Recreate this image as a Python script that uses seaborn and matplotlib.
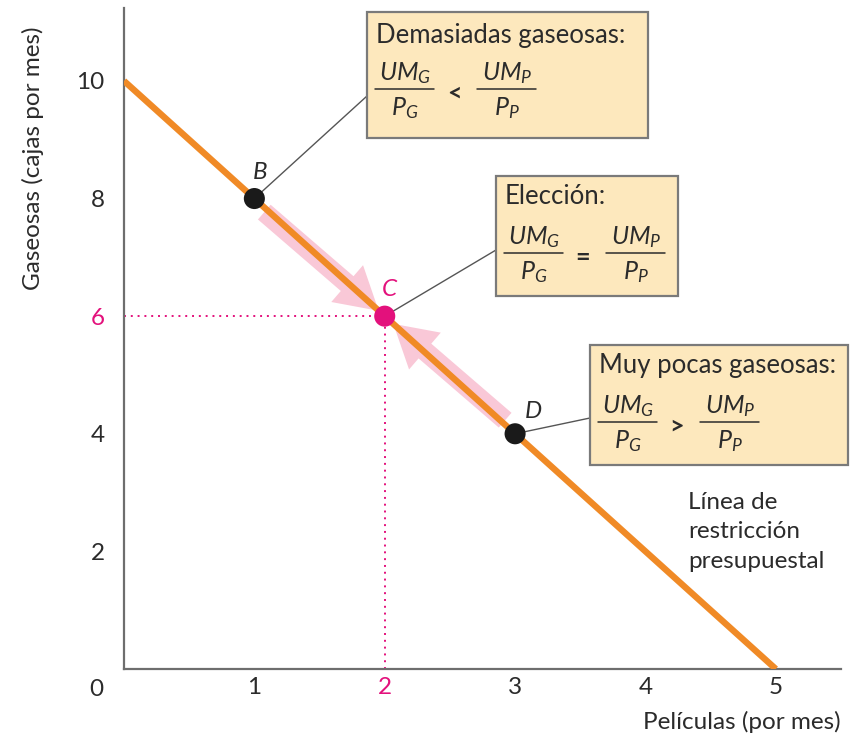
import matplotlib
matplotlib.use("Agg")
import matplotlib.pyplot as plt
import matplotlib.transforms as mtransforms
from matplotlib.patches import Rectangle, FancyArrowPatch
import seaborn as sns
import pandas as pd

# ---- data ----
peliculas_line = [0, 5]
gaseosas_line = [10, 0]
point_labels = ["B", "C", "D"]
point_x = [1, 2, 3]
point_y = [8, 6, 4]
x_ticks = [1, 2, 3, 4, 5]
y_ticks = [2, 4, 6, 8, 10]

ORANGE = "#f08a26"
MAGENTA = "#e3117c"
PINK = "#f9c8d7"
BOXFACE = "#fde8bd"
BOXEDGE = "#7a7a7a"
AXCOL = "#6e6e6e"
TXT = "#2b2b2b"
FS = 17.5

sns.set_style("white")
plt.rcParams["font.family"] = ["Lato", "DejaVu Sans"]
plt.rcParams["mathtext.fontset"] = "custom"
plt.rcParams["mathtext.it"] = "Lato:italic"
plt.rcParams["mathtext.rm"] = "Lato"

W, H = 861, 741
fig = plt.figure(figsize=(W / 100, H / 100), dpi=100)
ax = fig.add_axes([124 / W, 1 - 669 / H, (841 - 124) / W, (669 - 8) / H])
ax.set_xlim(0, 5.5)
ax.set_ylim(0, 11.24)

# reference-pixel transform (for annotation boxes only)
pix = mtransforms.Affine2D().scale(1 / W, -1 / H).translate(0, 1) + fig.transFigure

line_df = pd.DataFrame({"Películas": peliculas_line, "Gaseosas": gaseosas_line})
pts_df = pd.DataFrame({"x": point_x, "y": point_y, "lab": point_labels})

# pink arrows towards C
c = (point_x[1], point_y[1])
for (sx, sy), (ex, ey) in [((point_x[0] + 0.06, point_y[0] - 0.2), (c[0] - 0.03, c[1] + 0.06)),
                           ((point_x[2] - 0.06, point_y[2] + 0.2), (c[0] + 0.05, c[1] - 0.1))]:
    arr = FancyArrowPatch((sx, sy), (ex, ey),
                          arrowstyle="simple,head_width=3.5,head_length=3.0,tail_width=1.4",
                          mutation_scale=10, color=PINK, lw=0, zorder=2)
    ax.add_patch(arr)

# dotted guides to C
ax.plot([0, c[0]], [c[1], c[1]], ls=(0, (1, 2.5)), color=MAGENTA, lw=1.4, zorder=1)
ax.plot([c[0], c[0]], [0, c[1]], ls=(0, (1, 2.5)), color=MAGENTA, lw=1.4, zorder=1)

sns.lineplot(data=line_df, x="Películas", y="Gaseosas", color=ORANGE, lw=4.6,
             ax=ax, zorder=3, solid_capstyle="butt")
sns.scatterplot(data=pts_df, x="x", y="y", hue="lab",
                palette={"B": "#1a1a1a", "C": MAGENTA, "D": "#1a1a1a"},
                s=230, edgecolor="none", legend=False, ax=ax, zorder=5)

# point letters
lab_off = {"B": (6, 26), "C": (5, 27), "D": (18, 22)}
for lab, x, y in zip(point_labels, point_x, point_y):
    dx, dy = lab_off[lab]
    ax.annotate(lab, (x, y), xytext=(dx * 0.72, dy * 0.72), textcoords="offset points",
                ha="center", va="center", fontsize=FS, style="italic",
                color=MAGENTA if lab == "C" else TXT, zorder=6)

# axes styling
for s in ["top", "right"]:
    ax.spines[s].set_visible(False)
for s in ["left", "bottom"]:
    ax.spines[s].set_color(AXCOL)
    ax.spines[s].set_linewidth(1.6)
ax.set_xticks(x_ticks)
ax.set_yticks(y_ticks)
ax.tick_params(direction="in", length=7, width=1.4, color=AXCOL, labelsize=FS,
               labelcolor=TXT)
ax.tick_params(axis="x", pad=6)
ax.tick_params(axis="y", pad=14)
for t in ax.get_xticklabels():
    if t.get_text() == "2":
        t.set_color(MAGENTA)
for t in ax.get_yticklabels():
    if t.get_text() == "6":
        t.set_color(MAGENTA)
ax.set_xlabel("")
ax.set_ylabel("")
fig.text(96 / W, 1 - 689 / H, "0", ha="center", va="center", fontsize=FS, color=TXT)
fig.text(841 / W, 1 - 722 / H, "Películas (por mes)", ha="right", va="center",
         fontsize=FS, color=TXT)
fig.text(33 / W, 1 - 158 / H, "Gaseosas (cajas por mes)", ha="center", va="center",
         rotation=90, fontsize=FS, color=TXT)

ax.text(688 / W, 1 - 532 / H, "Línea de\nrestricción\npresupuestal", transform=fig.transFigure,
        ha="left", va="center", fontsize=FS, color=TXT, linespacing=1.5)


# annotation boxes
def box(x0, y0, x1, y1, title, op, anchor_xy, conn_y, title_dy):
    ax.add_patch(Rectangle((x0, y0), x1 - x0, y1 - y0, transform=pix, facecolor=BOXFACE,
                           edgecolor=BOXEDGE, lw=1.6, clip_on=False, zorder=7))
    ax.annotate("", xy=anchor_xy, xycoords="data", xytext=(x0, conn_y), textcoords=pix,
                arrowprops=dict(arrowstyle="-", color="#555555", lw=1.0,
                                shrinkA=0, shrinkB=6), zorder=4)
    ax.text(x0 + 9, y0 + title_dy, title, transform=pix, ha="left", va="center",
            fontsize=18.5, color=TXT, zorder=8)
    for cx, num, den in [(x0 + 38, r"$UM_G$", r"$P_G$"), (x0 + 140, r"$UM_P$", r"$P_P$")]:
        ax.text(cx, y0 + 61, num, transform=pix, ha="center", va="center",
                fontsize=18, color=TXT, zorder=8)
        ax.plot([cx - 30, cx + 29], [y0 + 77, y0 + 77], transform=pix, color=TXT,
                lw=1.1, clip_on=False, zorder=8)
        ax.text(cx, y0 + 96, den, transform=pix, ha="center", va="center",
                fontsize=18, color=TXT, zorder=8)
    ax.text(x0 + 87, y0 + 81, op, transform=pix, ha="center", va="center",
            fontsize=18, color=TXT, zorder=8, fontweight="bold")


box(367, 12, 648, 138, "Demasiadas gaseosas:", "<", (point_x[0], point_y[0]), 96, 24)
box(496, 176, 678, 296, "Elección:", "=", (point_x[1], point_y[1]), 250, 20)
box(590, 345, 848, 465, "Muy pocas gaseosas:", ">", (point_x[2], point_y[2]), 418, 20)

fig.savefig("out.png", dpi=100)
